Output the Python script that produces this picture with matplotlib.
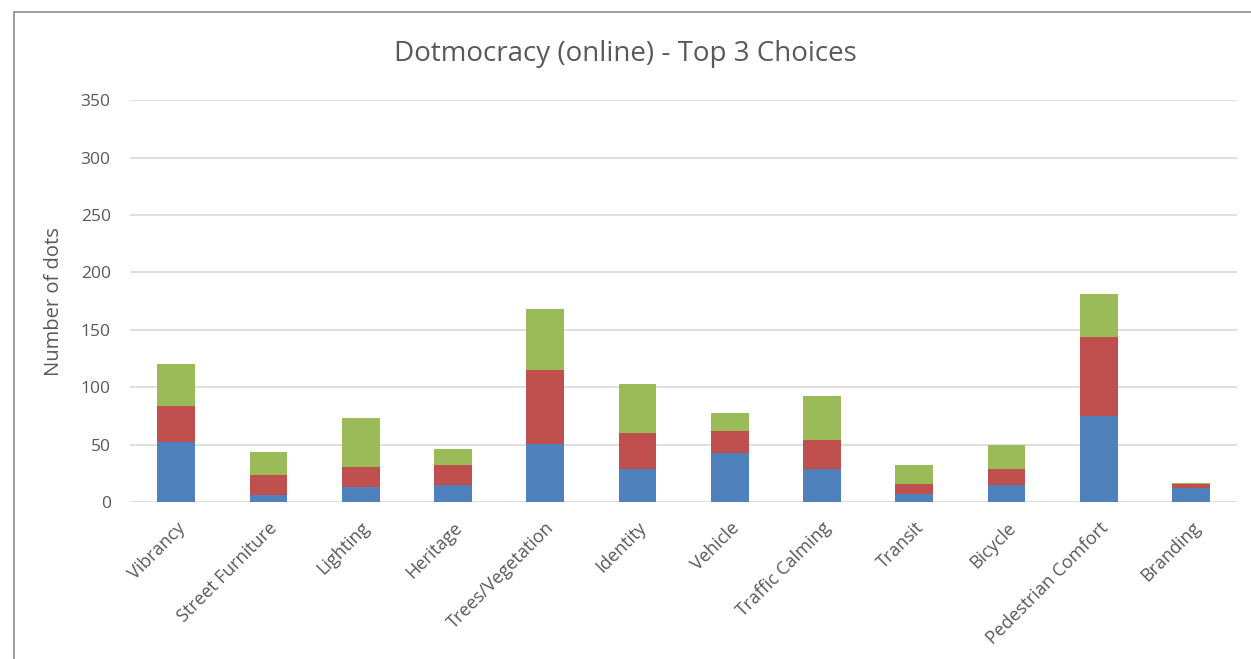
import matplotlib.pyplot as plt
from matplotlib.patches import Rectangle
import numpy as np

plt.rcParams['font.family'] = ['Open Sans', 'DejaVu Sans']

categories = ["Vibrancy", "Street Furniture", "Lighting", "Heritage", "Trees/Vegetation",
              "Identity", "Vehicle", "Traffic Calming", "Transit", "Bicycle",
              "Pedestrian Comfort", "Branding"]
first = [52, 6, 13, 15, 51, 29, 43, 29, 7, 15, 75, 12]
second = [32, 18, 18, 17, 64, 31, 19, 25, 9, 14, 69, 4]
third = [36, 20, 42, 14, 53, 43, 16, 38, 16, 21, 37, 1]
y_ticks = np.arange(0, 400, 50)

fig = plt.figure(figsize=(12.51, 6.59), dpi=100)
ax = fig.add_axes([0.104, 0.238, 0.885, 0.610])

x = np.arange(len(categories))
w = 0.41
first = np.array(first)
second = np.array(second)
third = np.array(third)
ax.bar(x, first, w, color="#4F81BD", zorder=3)
ax.bar(x, second, w, bottom=first, color="#C0504D", zorder=3)
ax.bar(x, third, w, bottom=first + second, color="#9BBB59", zorder=3)

ax.set_xlim(-0.5, len(categories) - 0.5)
ax.set_ylim(0, 350)
ax.set_yticks(y_ticks)
ax.yaxis.grid(True, color="#D9D9D9", linewidth=1.2, zorder=0)
for s in ax.spines.values():
    s.set_visible(False)
ax.tick_params(length=0, colors="#595959", labelsize=12.5)
ax.tick_params(axis="y", pad=14)
ax.tick_params(axis="x", pad=12, labelsize=13)
ax.set_xticks(x)
ax.set_xticklabels(categories, rotation=45, ha="right", rotation_mode="anchor")
ax.set_ylabel("Number of dots", color="#595959", fontsize=14.5, labelpad=12)
fig.suptitle("Dotmocracy (online) - Top 3 Choices", color="#595959", fontsize=20, y=0.94)

fig.patches.append(Rectangle((0.011, -0.05), 1.1, 1.032, transform=fig.transFigure,
                             fill=False, edgecolor="#8C8C8C", linewidth=1.2))

fig.savefig("out.png")
